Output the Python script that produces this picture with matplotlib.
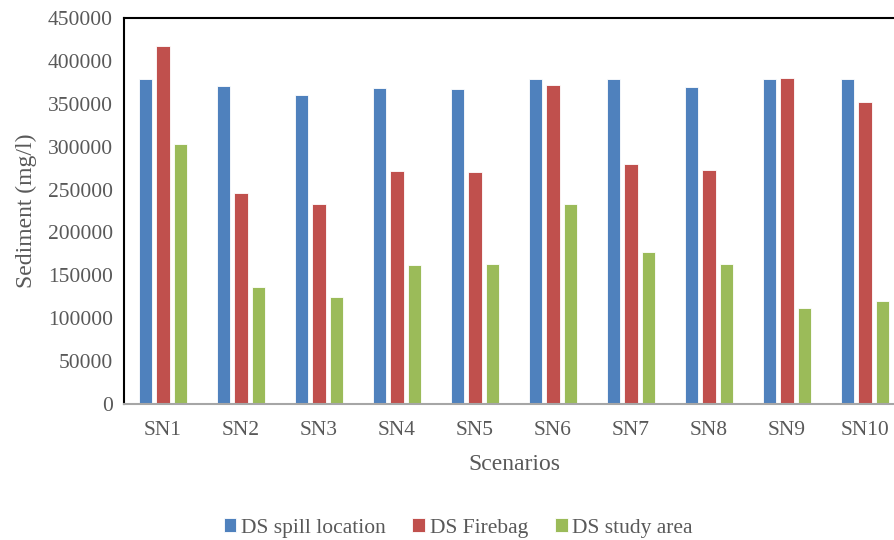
import numpy as np
import matplotlib.pyplot as plt

scenarios = ["SN1", "SN2", "SN3", "SN4", "SN5", "SN6", "SN7", "SN8", "SN9", "SN10"]
spill_location = [379000, 370500, 360500, 368500, 367500, 379000, 379000, 369500, 378500, 378500]
firebag = [417000, 246000, 233000, 271500, 270000, 371500, 279500, 272500, 380500, 351500]
study_area = [303500, 136000, 125000, 162000, 163000, 233500, 177000, 163500, 111500, 120000]

series_names = ["DS spill location", "DS Firebag", "DS study area"]
colors = ["#4f81bd", "#c0504d", "#9bbb59"]

plt.rcParams['font.family'] = ['Liberation Serif', 'DejaVu Serif']
gray = "#595959"

fig = plt.figure(figsize=(8.94, 5.4), dpi=100)
# axes runs a bit past the right edge of the picture, as in the reference
ax = fig.add_axes([124 / 894, 1 - 404 / 540, 780 / 894, 386 / 540])

x = np.arange(len(scenarios))
w = 0.173
step = 0.224
for i, (vals, name, c) in enumerate(zip([spill_location, firebag, study_area], series_names, colors)):
    ax.bar(x + (i - 1) * step, vals, width=w, color=c, edgecolor="white", linewidth=0.6, label=name)

ax.set_xlim(-0.5, len(scenarios) - 0.5)
ax.set_ylim(0, 450000)
ax.set_yticks(np.arange(0, 450001, 50000))
ax.set_xticks(x)
ax.set_xticklabels(scenarios)
ax.tick_params(axis="both", length=0, labelsize=15.5, labelcolor=gray)
ax.tick_params(axis="x", pad=12)
ax.tick_params(axis="y", pad=8)

for s in ["left", "top", "right"]:
    ax.spines[s].set_color("black")
    ax.spines[s].set_linewidth(1.5)
ax.spines["bottom"].set_color("#a6a6a6")
ax.spines["bottom"].set_linewidth(1.5)

ax.set_ylabel("Sediment (mg/l)", fontsize=17, color=gray, labelpad=8)
ax.set_xlabel("Scenarios", fontsize=17, color=gray, labelpad=10)

leg = fig.legend(loc="center", bbox_to_anchor=(458 / 894, 1 - 528 / 540), ncol=3, frameon=False,
                 fontsize=15.5, handlelength=0.6, handleheight=0.6, handletextpad=0.2, columnspacing=1.25)
for t in leg.get_texts():
    t.set_color(gray)

fig.savefig("out.png", dpi=100)
